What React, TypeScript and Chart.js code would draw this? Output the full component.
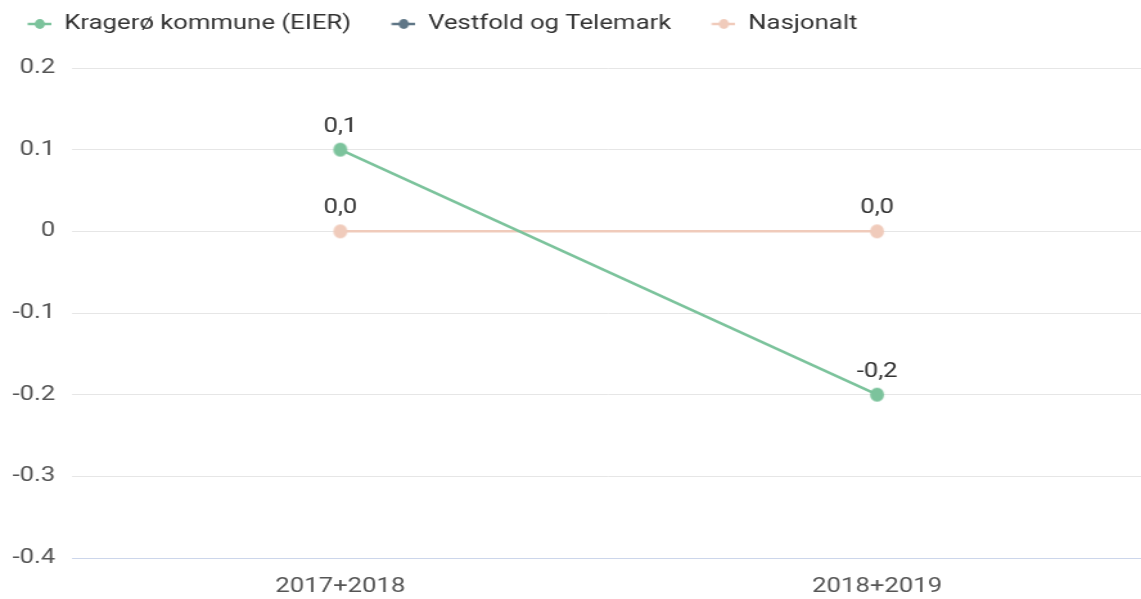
import React, { useEffect, useRef } from "react";
import { Chart, registerables } from "chart.js";

Chart.register(...registerables);

const categories = ["2017+2018", "2018+2019"];
const seriesNames = ["Kragerø kommune (EIER)", "Vestfold og Telemark", "Nasjonalt"];
const kragero: (number | null)[] = [0.1, -0.2];
const vestfold: (number | null)[] = [null, null];
const nasjonalt: (number | null)[] = [0.0, 0.0];
const seriesColors = ["#7cc39c", "#5f7686", "#f0cbbb"];
const yTicks = [-0.4, -0.3, -0.2, -0.1, 0, 0.1, 0.2];

const FONT = "Roboto, 'Noto Sans', sans-serif";
const VIEW_W = 1141;
const VIEW_H = 599;
const STRETCH = 1141 / 888;
const CANVAS_W = 901;
const CANVAS_H = 599;

function makeLegendIcon(color: string): HTMLCanvasElement {
  const c = document.createElement("canvas");
  const w = 30;
  const h = 16;
  c.width = w;
  c.height = h;
  const ctx = c.getContext("2d")!;
  ctx.strokeStyle = color;
  ctx.lineWidth = 2.5;
  ctx.beginPath();
  ctx.moveTo(11.5, h / 2);
  ctx.lineTo(30, h / 2);
  ctx.stroke();
  ctx.fillStyle = color;
  ctx.beginPath();
  ctx.ellipse(21, h / 2, 5 / STRETCH, 5, 0, 0, Math.PI * 2);
  ctx.fill();
  return c;
}

function makePointIcon(color: string): HTMLCanvasElement {
  const c = document.createElement("canvas");
  const r = 7;
  const w = Math.ceil((2 * r) / STRETCH) + 2;
  const h = Math.ceil(2 * r) + 2;
  c.width = w;
  c.height = h;
  const ctx = c.getContext("2d")!;
  ctx.fillStyle = color;
  ctx.beginPath();
  ctx.ellipse(w / 2, h / 2, r / STRETCH, r, 0, 0, Math.PI * 2);
  ctx.fill();
  return c;
}

const dataLabelPlugin = {
  id: "dataLabels",
  afterDatasetsDraw(chart: any) {
    const ctx = chart.ctx;
    ctx.save();
    ctx.font = `20px ${FONT}`;
    ctx.fillStyle = "#333333";
    ctx.textAlign = "center";
    ctx.textBaseline = "bottom";
    chart.data.datasets.forEach((ds: any, i: number) => {
      const meta = chart.getDatasetMeta(i);
      if (meta.hidden) return;
      meta.data.forEach((pt: any, j: number) => {
        const v = ds.data[j];
        if (v === null || v === undefined) return;
        const txt = Number(v).toFixed(1).replace(".", ",");
        ctx.fillText(txt, pt.x, pt.y - 13);
      });
    });
    ctx.restore();
  },
};

const legendSpacer = {
  id: "legendSpacer",
  beforeUpdate(chart: any) {
    const lg = chart.legend;
    if (lg && !lg._spacerPatched) {
      const orig = lg.fit;
      lg.fit = function () {
        orig.call(this);
        this.height += 24;
      };
      lg._spacerPatched = true;
    }
  },
};

export default function App() {
  const ref = useRef<HTMLCanvasElement | null>(null);
  useEffect(() => {
    if (!ref.current) return;
    const icons = seriesColors.map(makeLegendIcon);
    const points = seriesColors.map(makePointIcon);
    const data = [kragero, vestfold, nasjonalt];
    const chart = new Chart(ref.current, {
      type: "line",
      data: {
        labels: categories,
        datasets: seriesNames.map((name, i) => ({
          label: name,
          data: data[i],
          borderColor: seriesColors[i],
          backgroundColor: seriesColors[i],
          pointStyle: points[i] as any,
          pointRadius: 7,
          pointHoverRadius: 7,
          borderWidth: 2.5,
          fill: false,
          tension: 0,
        })),
      },
      options: {
        responsive: false,
        animation: false,
        layout: { padding: { left: 0, right: 0, top: 4, bottom: -17 } },
        plugins: {
          legend: {
            display: true,
            position: "top",
            align: "start",
            labels: {
              usePointStyle: true,
              pointStyleWidth: 30,
              boxHeight: 16,
              padding: 10,
              color: "#333333",
              font: { family: FONT, size: 20 },
              generateLabels: (chart: any) =>
                chart.data.datasets.map((ds: any, i: number) => ({
                  text: i < chart.data.datasets.length - 1 ? ds.label + "  " : ds.label,
                  fillStyle: seriesColors[i],
                  strokeStyle: seriesColors[i],
                  lineWidth: 0,
                  pointStyle: icons[i],
                  hidden: false,
                  datasetIndex: i,
                  fontColor: "#333333",
                })),
            },
          },
          tooltip: { enabled: false },
        },
        scales: {
          x: {
            offset: true,
            grid: { display: false, drawTicks: false },
            border: { display: true, color: "#ccd6eb", width: 1 },
            ticks: {
              color: "#555555",
              padding: 17,
              font: { family: FONT, size: 20 },
            },
          },
          y: {
            min: -0.4,
            max: 0.2,
            afterBuildTicks: (axis: any) => {
              axis.ticks = yTicks.map((v) => ({ value: v }));
            },
            afterFit: (axis: any) => {
              axis.width = 56;
            },
            grid: { color: "#e6e6e6", drawTicks: false, lineWidth: 1 },
            border: { display: false },
            ticks: {
              color: "#555555",
              padding: 13,
              font: { family: FONT, size: 20 },
              callback: (v: any) => String(Number(Number(v).toFixed(1))),
            },
          },
        },
      } as any,
      plugins: [dataLabelPlugin, legendSpacer],
    });
    return () => chart.destroy();
  }, []);
  return (
    <div
      style={{
        position: "absolute",
        left: 0,
        top: 0,
        width: VIEW_W,
        height: VIEW_H,
        overflow: "hidden",
      }}
    >
      <div
        style={{
          width: CANVAS_W,
          height: CANVAS_H,
          transform: `scaleX(${STRETCH})`,
          transformOrigin: "0 0",
        }}
      >
        <canvas ref={ref} width={CANVAS_W} height={CANVAS_H} style={{ display: "block" }} />
      </div>
    </div>
  );
}
